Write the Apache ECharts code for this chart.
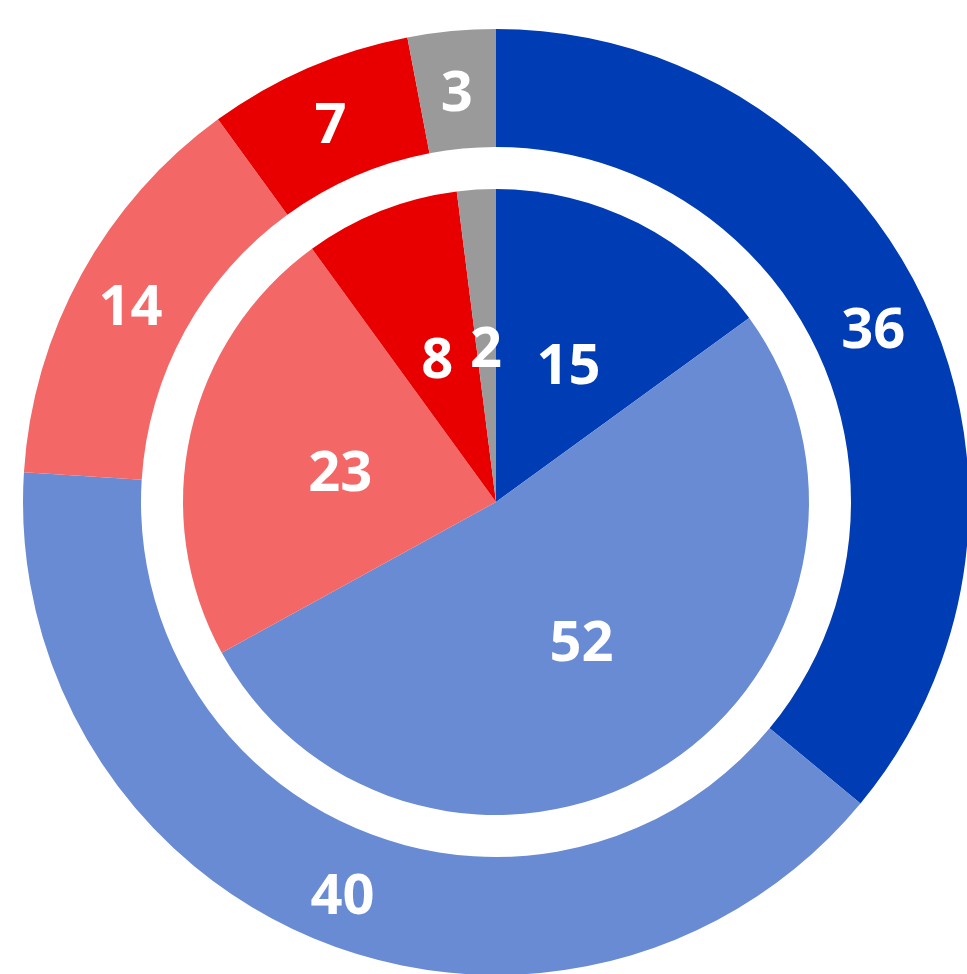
<!DOCTYPE html>
<html>
<head>
<meta charset="utf-8">
<script src="https://cdn.jsdelivr.net/npm/echarts@6/dist/echarts.min.js"></script>
<style>html,body{margin:0;padding:0;background:#fff;}#c{width:967px;height:974px;}</style>
</head>
<body>
<div id="c"></div>
<script>
const categories = ['A', 'B', 'C', 'D', 'E'];
const innerValues = [15, 52, 23, 8, 2];
const outerValues = [36, 40, 14, 7, 3];
const colors = ['#003CB4', '#698BD3', '#F46767', '#E80000', '#9A9A9A'];

const chart = echarts.init(document.getElementById('c'), null, {renderer: 'canvas'});
const mk = vals => vals.map((v, i) => ({name: categories[i], value: v, itemStyle: {color: colors[i]}}));
const labelStyle = {
  show: true, position: 'inside', formatter: '{v|{c}}',
  rich: {
    v: {color: '#fff', fontFamily: 'Open Sans', fontWeight: 'bold', fontSize: 56, padding: [16, 0, 0, 0]}
  }
};
chart.setOption({
  animation: false,
  series: [
    {
      type: 'pie', center: [496, 502], radius: [0, 313], startAngle: 90, clockwise: true,
      label: labelStyle, labelLine: {show: false}, itemStyle: {borderWidth: 0},
      emphasis: {disabled: true}, data: mk(innerValues)
    },
    {
      type: 'pie', center: [496, 502], radius: [355, 473], startAngle: 90, clockwise: true,
      label: labelStyle, labelLine: {show: false}, itemStyle: {borderWidth: 0},
      emphasis: {disabled: true}, data: mk(outerValues)
    }
  ]
});
</script>
</body>
</html>
